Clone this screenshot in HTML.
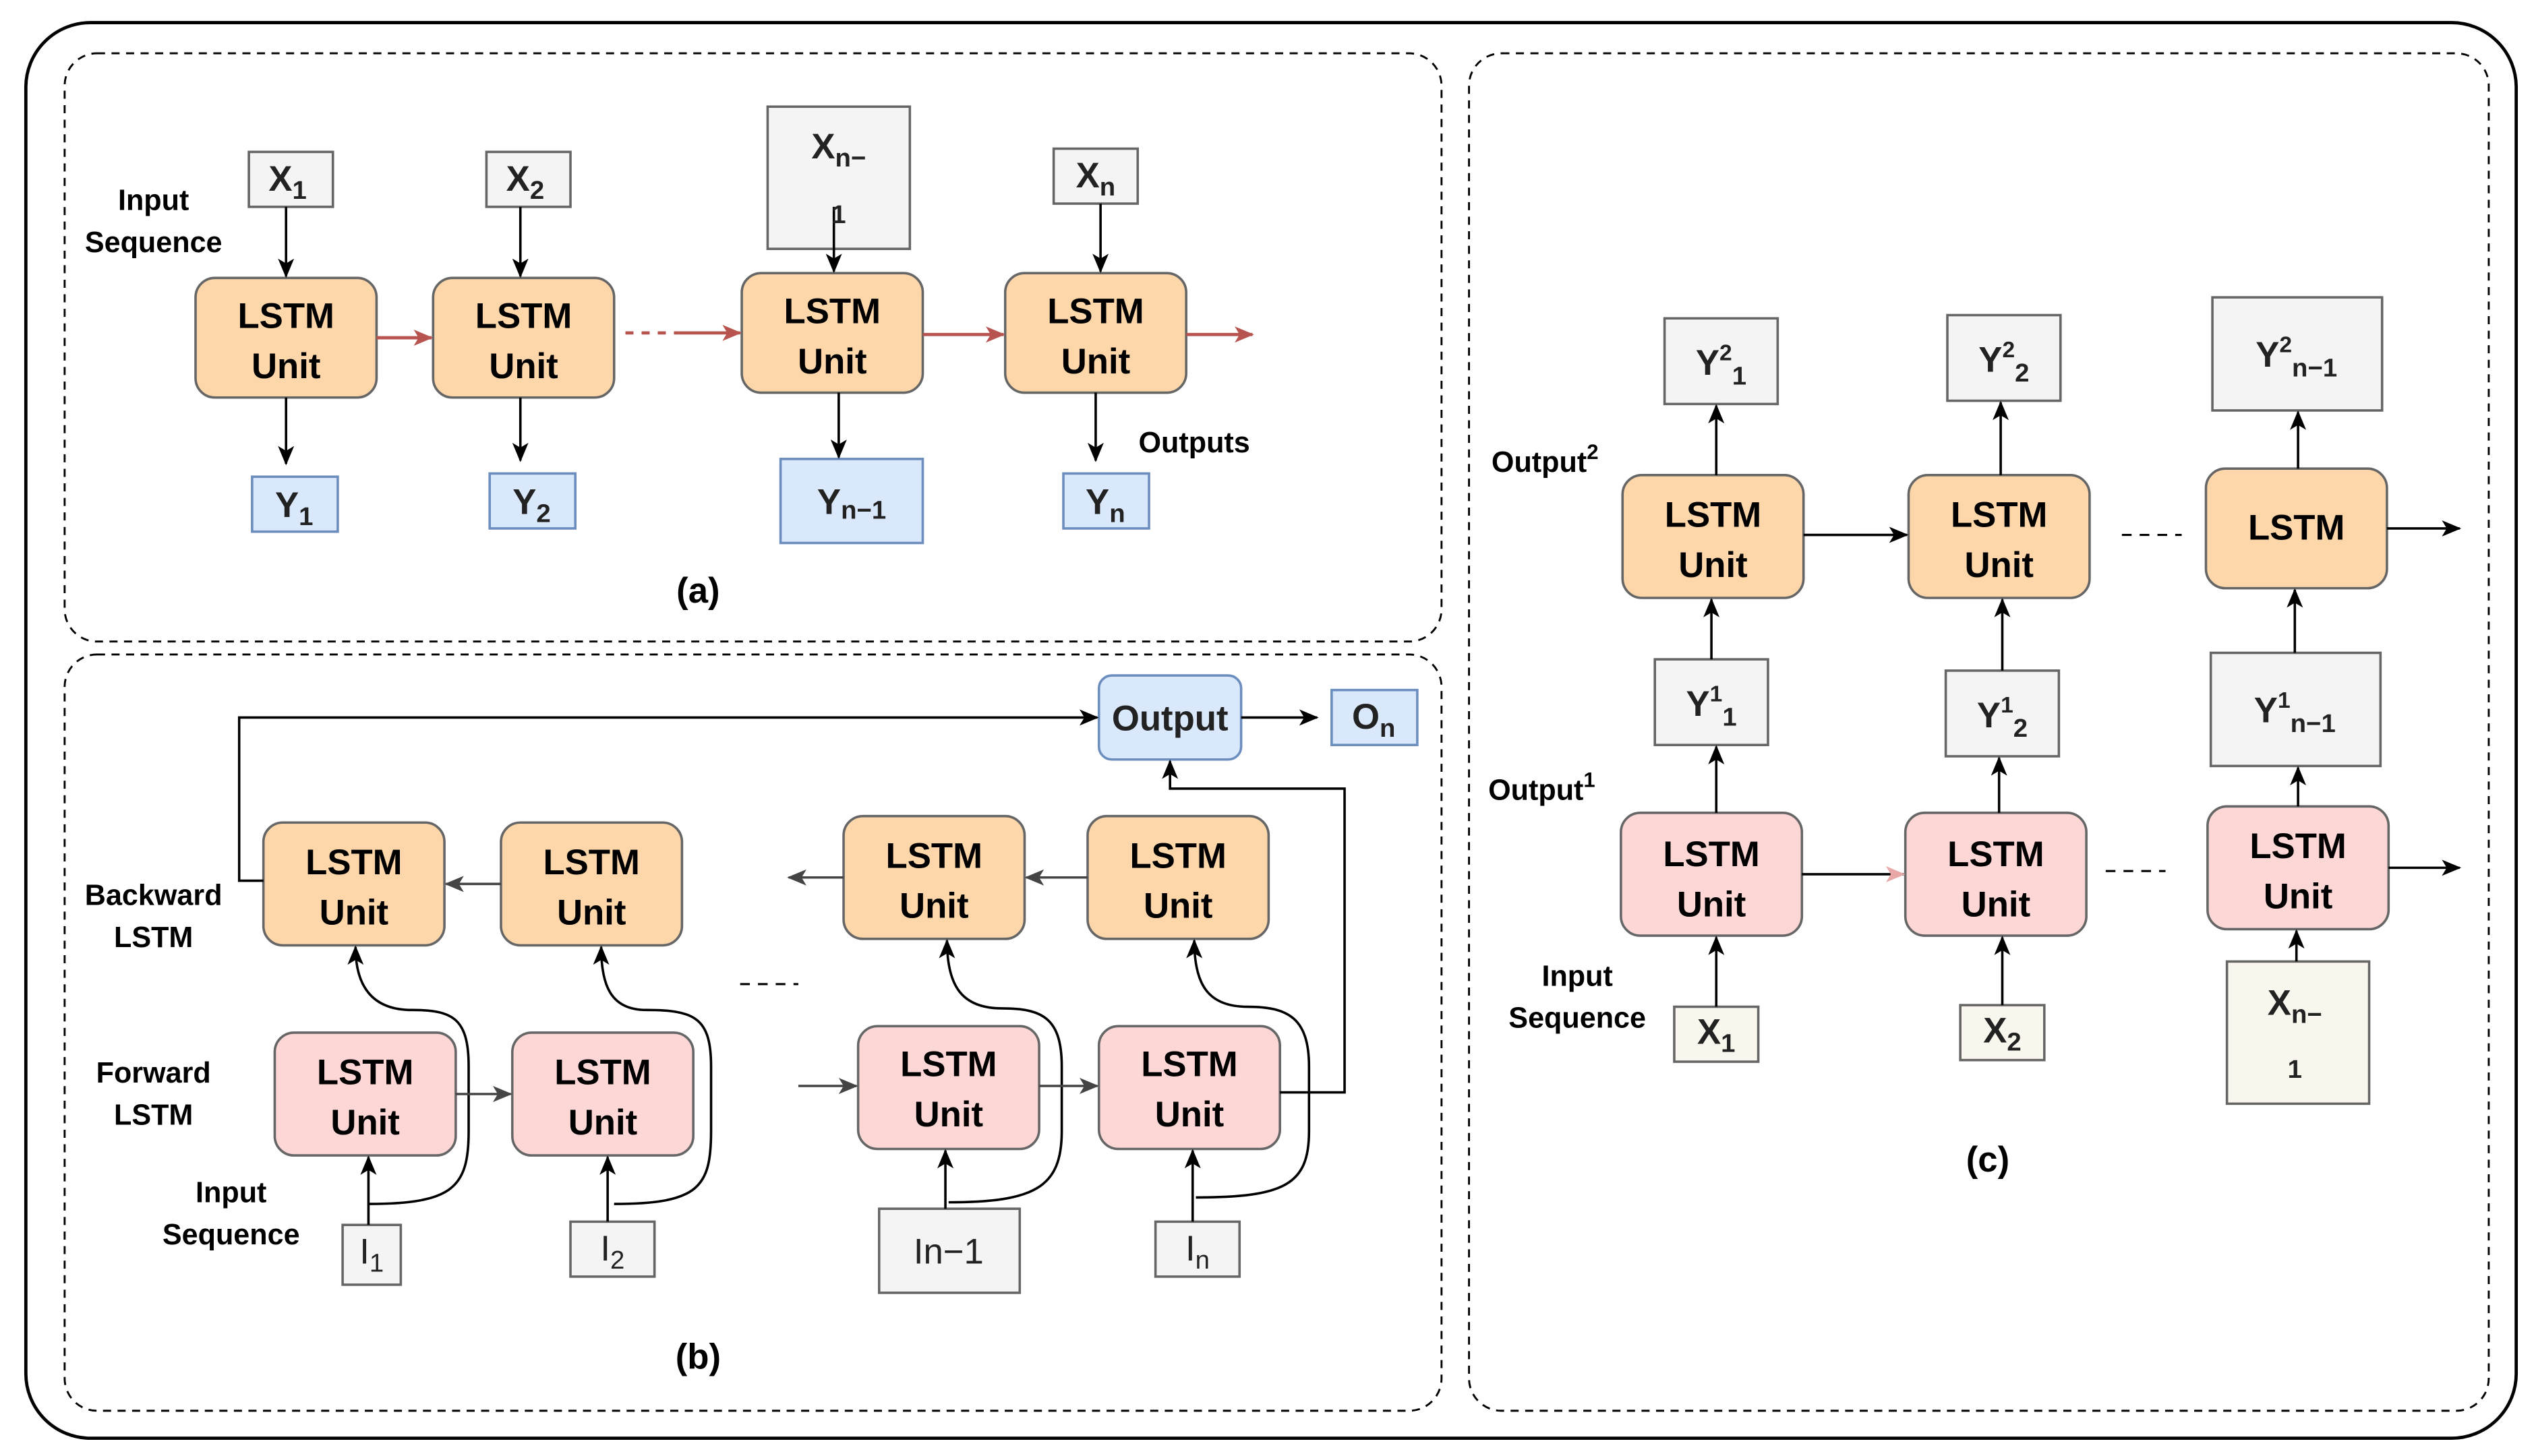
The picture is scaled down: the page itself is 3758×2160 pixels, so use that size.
<!DOCTYPE html>
<html><head><meta charset="utf-8"><style>html,body{margin:0;padding:0;background:#fff}svg{display:block}</style></head><body>
<svg width="3758" height="2160" viewBox="0 0 1568 901" preserveAspectRatio="none" xmlns="http://www.w3.org/2000/svg" font-family="Liberation Sans, Arial, sans-serif" font-weight="bold">
<defs>
<marker id="k" markerWidth="12" markerHeight="10" refX="11" refY="5" orient="auto" markerUnits="userSpaceOnUse"><path d="M0,0 L12,5 L0,10 L3,5 Z" fill="#000"/></marker>
<marker id="r" markerWidth="12" markerHeight="10" refX="11" refY="5" orient="auto" markerUnits="userSpaceOnUse"><path d="M0,0 L12,5 L0,10 L3,5 Z" fill="#b85450"/></marker>
<marker id="g" markerWidth="12" markerHeight="10" refX="11" refY="5" orient="auto" markerUnits="userSpaceOnUse"><path d="M0,0 L12,5 L0,10 L3,5 Z" fill="#444"/></marker>
<marker id="p" markerWidth="12" markerHeight="10" refX="11" refY="5" orient="auto" markerUnits="userSpaceOnUse"><path d="M0,0 L12,5 L0,10 L3,5 Z" fill="#e8a8a8"/></marker>
</defs>
<rect x="16" y="14" width="1541" height="876" rx="40" fill="none" stroke="#000" stroke-width="2"/>
<g fill="none" stroke="#000" stroke-width="1.2" stroke-dasharray="5,4">
<rect x="40" y="33" width="852" height="364" rx="20"/>
<rect x="40" y="405" width="852" height="468" rx="20"/>
<rect x="909" y="33" width="631" height="840" rx="20"/>
</g>
<g stroke="#666" stroke-width="1.5">
<g fill="#fdd6a9">
<rect x="121" y="172" width="112" height="74" rx="12"/><rect x="268" y="172" width="112" height="74" rx="12"/><rect x="459" y="169" width="112" height="74" rx="12"/><rect x="622" y="169" width="112" height="74" rx="12"/>
<rect x="163" y="509" width="112" height="76" rx="12"/><rect x="310" y="509" width="112" height="76" rx="12"/><rect x="522" y="505" width="112" height="76" rx="12"/><rect x="673" y="505" width="112" height="76" rx="12"/>
<rect x="1004" y="294" width="112" height="76" rx="12"/><rect x="1181" y="294" width="112" height="76" rx="12"/><rect x="1365" y="290" width="112" height="74" rx="12"/>
</g>
<g fill="#fcd7d6">
<rect x="170" y="639" width="112" height="76" rx="12"/><rect x="317" y="639" width="112" height="76" rx="12"/><rect x="531" y="635" width="112" height="76" rx="12"/><rect x="680" y="635" width="112" height="76" rx="12"/>
<rect x="1003" y="503" width="112" height="76" rx="12"/><rect x="1179" y="503" width="112" height="76" rx="12"/><rect x="1366" y="499" width="112" height="76" rx="12"/>
</g>
<g fill="#f4f4f4">
<rect x="154" y="94" width="52" height="34"/><rect x="301" y="94" width="52" height="34"/><rect x="475" y="66" width="88" height="88"/><rect x="652" y="92" width="52" height="34"/>
<rect x="212" y="758" width="36" height="37"/><rect x="353" y="756" width="52" height="34"/><rect x="544" y="748" width="87" height="52"/><rect x="715" y="756" width="52" height="34"/>
<rect x="1030" y="197" width="70" height="53"/><rect x="1205" y="195" width="70" height="53"/><rect x="1369" y="184" width="105" height="70"/>
<rect x="1024" y="408" width="70" height="53"/><rect x="1204" y="415" width="70" height="53"/><rect x="1368" y="404" width="105" height="70"/>
</g>
<g fill="#f9f7ed"><rect x="1036" y="623" width="52" height="34"/><rect x="1213" y="622" width="52" height="34"/><rect x="1378" y="595" width="88" height="88"/></g>
</g>
<g fill="#dae8fc" stroke="#6c8ebf" stroke-width="1.5">
<rect x="156" y="295" width="53" height="34"/><rect x="303" y="293" width="53" height="34"/><rect x="483" y="284" width="88" height="52"/><rect x="658" y="293" width="53" height="34"/>
<rect x="680" y="418" width="88" height="52" rx="8"/><rect x="824" y="427" width="53" height="34"/>
</g>
<!-- connectors -->
<g fill="none" stroke="#000" stroke-width="1.5" marker-end="url(#k)">
<path d="M177,128V171"/><path d="M322,128V171"/><path d="M516,128V168"/><path d="M681,126V168"/>
<path d="M177,246V287"/><path d="M322,246V285"/><path d="M519,243V283"/><path d="M678,243V285"/>
<path d="M768,444H815"/><path d="M163,545H148V444H679"/><path d="M792,676H832V488H724V471"/>
<path d="M228,758V716"/><path d="M376,756V716"/><path d="M585,748V712"/><path d="M738,756V712"/>
<path d="M228,745C280,745 290,735 290,700V660C290,630 280,625 255,625C230,625 220,610 220,586"/>
<path d="M380,745C432,745 440,735 440,700V660C440,630 430,625 400,625C378,625 372,610 372,586"/>
<path d="M587,744C640,744 657,735 657,700V660C657,630 645,624 620,624C595,624 586,610 586,582"/>
<path d="M740,741C795,741 810,733 810,700V660C810,630 797,623 772,623C748,623 739,610 739,582"/>
<path d="M1062,623V580"/><path d="M1239,622V580"/><path d="M1421,595V576"/>
<path d="M1062,503V462"/><path d="M1237,503V469"/><path d="M1422,499V475"/>
<path d="M1059,408V371"/><path d="M1239,415V371"/><path d="M1420,404V365"/>
<path d="M1062,294V251"/><path d="M1238,294V249"/><path d="M1422,290V255"/>
<path d="M1116,331H1180"/><path d="M1477,327H1522"/><path d="M1478,537H1522"/>
</g>
<path d="M1115,541H1178" stroke="#000" stroke-width="1.5" fill="none" marker-end="url(#p)"/>
<g fill="none" stroke="#444" stroke-width="1.5" marker-end="url(#g)">
<path d="M310,547H276"/><path d="M522,543H488"/><path d="M673,543H635"/>
<path d="M494,672H530"/><path d="M282,677H316"/><path d="M643,672H679"/>
</g>
<g fill="none" stroke="#b85450" stroke-width="2" marker-end="url(#r)">
<path d="M233,209H267"/><path d="M420,206H458"/><path d="M571,207H621"/><path d="M734,207H775"/>
</g>
<path d="M387,206H420" stroke="#b85450" stroke-width="2" stroke-dasharray="5,5"/>
<g stroke="#000" stroke-width="1.3" stroke-dasharray="6,5"><path d="M458,609H494"/><path d="M1313,331H1350"/><path d="M1303,539H1340"/></g>
<!-- text -->
<g font-size="22" text-anchor="middle" fill="#000">
<text x="177" y="203">LSTM</text><text x="177" y="234">Unit</text>
<text x="324" y="203">LSTM</text><text x="324" y="234">Unit</text>
<text x="515" y="200">LSTM</text><text x="515" y="231">Unit</text>
<text x="678" y="200">LSTM</text><text x="678" y="231">Unit</text>
<text x="219" y="541">LSTM</text><text x="219" y="572">Unit</text>
<text x="366" y="541">LSTM</text><text x="366" y="572">Unit</text>
<text x="578" y="537">LSTM</text><text x="578" y="568">Unit</text>
<text x="729" y="537">LSTM</text><text x="729" y="568">Unit</text>
<text x="226" y="671">LSTM</text><text x="226" y="702">Unit</text>
<text x="373" y="671">LSTM</text><text x="373" y="702">Unit</text>
<text x="587" y="666">LSTM</text><text x="587" y="697">Unit</text>
<text x="736" y="666">LSTM</text><text x="736" y="697">Unit</text>
<text x="1060" y="326">LSTM</text><text x="1060" y="357">Unit</text>
<text x="1237" y="326">LSTM</text><text x="1237" y="357">Unit</text>
<text x="1421" y="334">LSTM</text>
<text x="1059" y="536">LSTM</text><text x="1059" y="567">Unit</text>
<text x="1235" y="536">LSTM</text><text x="1235" y="567">Unit</text>
<text x="1422" y="531">LSTM</text><text x="1422" y="562">Unit</text>
</g>
<g font-size="22" text-anchor="middle" fill="#222" font-weight="bold">
<text x="178" y="118">X<tspan font-size="16" dy="5">1</tspan></text>
<text x="325" y="118">X<tspan font-size="16" dy="5">2</tspan></text>
<text x="519" y="98">X<tspan font-size="16" dy="5">n−</tspan></text>
<text x="519" y="138" font-size="16">1</text>
<text x="678" y="116">X<tspan font-size="16" dy="5">n</tspan></text>
<text x="182" y="320">Y<tspan font-size="16" dy="5">1</tspan></text>
<text x="329" y="318">Y<tspan font-size="16" dy="5">2</tspan></text>
<text x="527" y="318">Y<tspan font-size="16" dy="3">n−1</tspan></text>
<text x="684" y="318">Y<tspan font-size="16" dy="5">n</tspan></text>
<text x="724" y="452">Output</text>
<text x="850" y="451">O<tspan font-size="16" dy="5">n</tspan></text>
<text x="230" y="782" font-weight="normal">I<tspan font-size="16" dy="5">1</tspan></text>
<text x="379" y="780" font-weight="normal">I<tspan font-size="16" dy="5">2</tspan></text>
<text x="587" y="782" font-weight="normal">In−1</text>
<text x="741" y="780" font-weight="normal">I<tspan font-size="16" dy="5">n</tspan></text>
<text x="1065" y="232">Y<tspan font-size="14" dy="-9">2</tspan><tspan font-size="16" dy="15">1</tspan></text>
<text x="1240" y="230">Y<tspan font-size="14" dy="-9">2</tspan><tspan font-size="16" dy="15">2</tspan></text>
<text x="1421" y="227">Y<tspan font-size="14" dy="-9">2</tspan><tspan font-size="16" dy="15">n−1</tspan></text>
<text x="1059" y="443">Y<tspan font-size="14" dy="-9">1</tspan><tspan font-size="16" dy="15">1</tspan></text>
<text x="1239" y="450">Y<tspan font-size="14" dy="-9">1</tspan><tspan font-size="16" dy="15">2</tspan></text>
<text x="1420" y="447">Y<tspan font-size="14" dy="-9">1</tspan><tspan font-size="16" dy="15">n−1</tspan></text>
<text x="1062" y="646">X<tspan font-size="16" dy="5">1</tspan></text>
<text x="1239" y="645">X<tspan font-size="16" dy="5">2</tspan></text>
<text x="1420" y="628">X<tspan font-size="16" dy="5">n−</tspan></text>
<text x="1420" y="667" font-size="16">1</text>
</g>
<g font-size="18" text-anchor="middle" fill="#000">
<text x="95" y="130">Input</text><text x="95" y="156">Sequence</text>
<text x="739" y="280">Outputs</text>
<text x="95" y="560">Backward</text><text x="95" y="586">LSTM</text>
<text x="95" y="670">Forward</text><text x="95" y="696">LSTM</text>
<text x="143" y="744">Input</text><text x="143" y="770">Sequence</text>
<text x="956" y="292">Output<tspan font-size="13" dy="-8">2</tspan></text>
<text x="954" y="495">Output<tspan font-size="13" dy="-8">1</tspan></text>
<text x="976" y="610">Input</text><text x="976" y="636">Sequence</text>
</g>
<g font-size="22" text-anchor="middle" fill="#000">
<text x="432" y="373">(a)</text><text x="432" y="847">(b)</text><text x="1230" y="725">(c)</text>
</g>
</svg>
</body></html>
